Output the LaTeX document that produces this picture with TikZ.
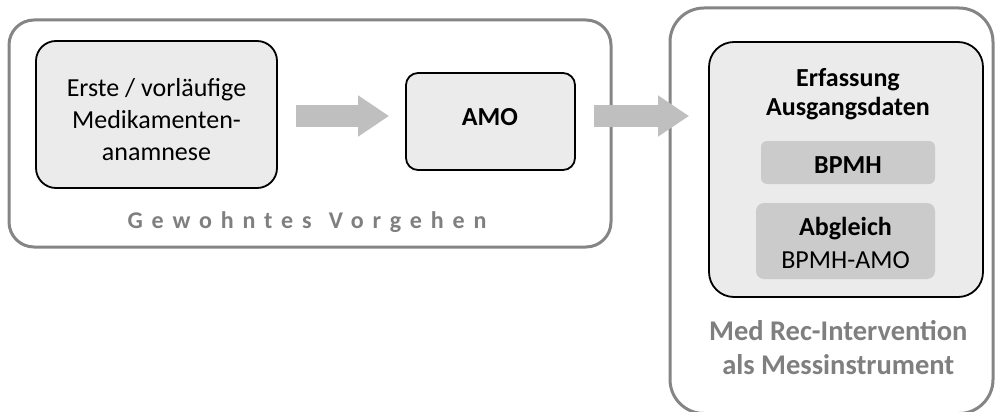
\documentclass[tikz,border=0pt]{standalone}
\usepackage{fontspec}
\setmainfont{Carlito}
\usetikzlibrary{arrows.meta,calc}

\definecolor{framegray}{HTML}{858585}
\definecolor{labelgray}{HTML}{7F7F7F}
\definecolor{boxfill}{HTML}{EBEBEB}
\definecolor{subfill}{HTML}{CBCBCB}
\definecolor{arrowgray}{HTML}{BFBFBF}

\tikzset{
  groupframe/.style={draw=framegray, line width=3pt, fill=white, inner sep=0pt, rectangle},
  stepbox/.style={draw=black, line width=1.8pt, fill=boxfill, inner sep=0pt, rectangle},
  subbox/.style={fill=subfill, inner sep=0pt, rectangle},
  txt/.style={anchor=base, inner sep=0pt, font=\fontsize{26}{30}\selectfont},
  btxt/.style={txt, font=\fontsize{26}{30}\selectfont\bfseries},
  graytxt/.style={txt, text=labelgray, font=\fontsize{28.5}{32}\selectfont\bfseries},
  fatarrow/.style={draw=arrowgray, line width=22pt,
    -{Triangle[length=31pt, width=39pt, fill=arrowgray]}}
}

\begin{document}
\begin{tikzpicture}[x=1pt, y=-1pt]
\useasboundingbox (0,0) rectangle (996,412);

% group frames
\node[groupframe, minimum width=602pt, minimum height=227pt, rounded corners=25pt] (usual) at (310,133.5) {};
\node[groupframe, minimum width=323pt, minimum height=405.5pt, rounded corners=34pt] (medrec) at (831.5,210.75) {};

% process steps
\node[stepbox, minimum width=241pt, minimum height=147pt, rounded corners=20pt] (anam) at (156.5,114.5) {};
\node[stepbox, minimum width=169pt, minimum height=97pt, rounded corners=12pt] (amo) at (490.5,121.5) {};
\node[stepbox, minimum width=274pt, minimum height=255pt, rounded corners=25pt] (erf) at (846,169.5) {};
\node[subbox, minimum width=174pt, minimum height=43pt, rounded corners=6pt] (bpmh) at (848,162.5) {};
\node[subbox, minimum width=179pt, minimum height=76pt, rounded corners=8pt] (abgl) at (845.5,241) {};

% labels
\node[txt] (anamA) at (156.5,96) {Erste / vorläufige};
\node[txt] (anamB) at (156.5,128) {Medikamenten-};
\node[txt] (anamC) at (156.5,160) {anamnese};
\node[btxt] (amoT) at (490,125) {AMO};
\node[btxt] (erfA) at (848,86.7) {Erfassung};
\node[btxt] (erfB) at (848,115) {Ausgangsdaten};
\node[btxt] (bpmhT) at (848,173.3) {BPMH};
\node[btxt] (abglA) at (845.5,235.7) {Abgleich};
\node[txt] (abglB) at (845.5,268.3) {BPMH-AMO};
\node[graytxt, font=\fontsize{24}{28}\selectfont\bfseries\addfontfeature{LetterSpace=37}] (usualT) at (307,228) {Gewohntes\hspace{3pt} Vorgehen};
\node[graytxt] (medA) at (838.3,340) {Med Rec-Intervention};
\node[graytxt] (medB) at (838.3,374) {als Messinstrument};

% flow arrows
\coordinate (row) at (0,116);
\draw[fatarrow] ($(anam.east |- row)+(18,0)$) -- ($(amo.west |- row)+(-16,0)$);
\draw[fatarrow] ($(amo.east |- row)+(18,0)$) -- ($(erf.west |- row)+(-19,0)$);
\end{tikzpicture}
\end{document}
